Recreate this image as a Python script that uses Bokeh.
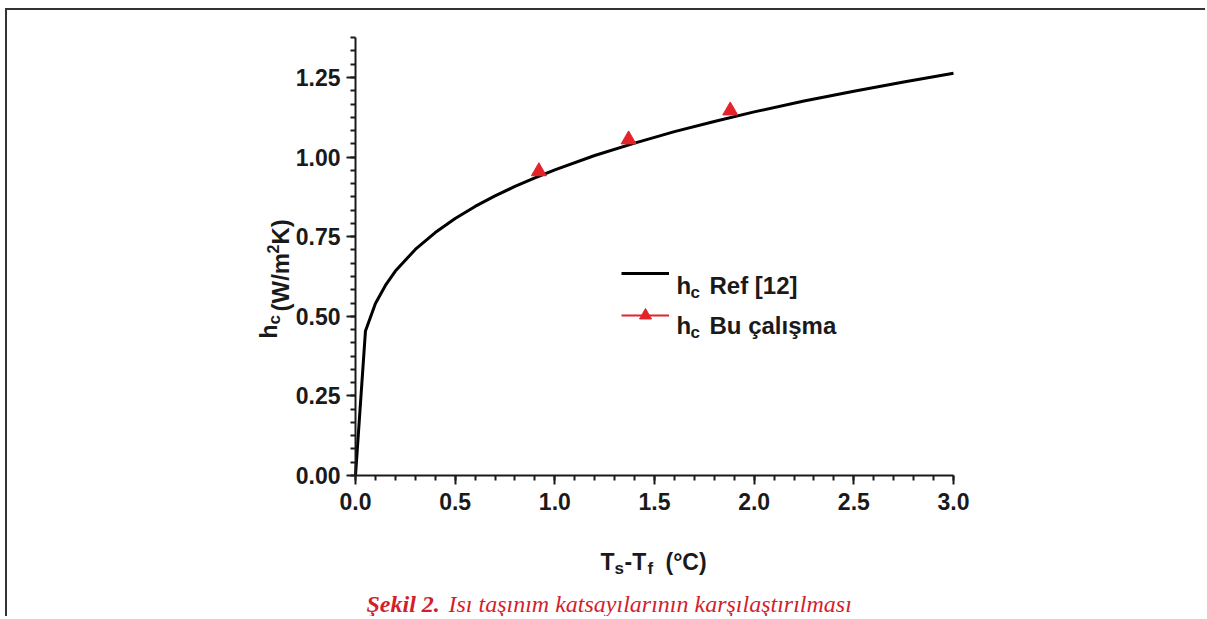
import math
from bokeh.plotting import figure
from bokeh.models import (Range1d, SingleIntervalTicker, NumeralTickFormatter, Label,
                          Legend, LegendItem)
from bokeh.embed import file_html
from bokeh.resources import INLINE

# ---- data ----
ref_dt = [0.0, 0.05, 0.1, 0.15, 0.2, 0.3, 0.4, 0.5, 0.6, 0.7, 0.8, 0.9, 1.0,
          1.2, 1.4, 1.6, 1.8, 2.0, 2.25, 2.5, 2.75, 3.0]
ref_hc = [0.0, 0.454, 0.540, 0.597, 0.642, 0.710, 0.763, 0.807, 0.845, 0.878, 0.908,
          0.935, 0.960, 1.005, 1.044, 1.080, 1.112, 1.142, 1.176, 1.207, 1.236, 1.263]
bu_dt = [0.92, 1.37, 1.88]
bu_hc = [0.955, 1.055, 1.146]

x_ticks_interval = 0.5
y_ticks_interval = 0.25
x_axis_span = (0.0, 3.0)
y_axis_span = (0.0, 1.3756)
legend_labels = ["Ref [12]", "Bu çalışma"]
caption_bold = "Şekil 2."
caption_rest = "Isı taşınım katsayılarının karşılaştırılması"

# ---- layout (page pixels) ----
W, H = 1200, 608
OX, OY = 7, 10                       # page position of the canvas
FL, FR, FT, FB = 355, 953, 37, 475   # axis box in page px


def dx(px):
    return x_axis_span[0] + (px - FL) / (FR - FL) * (x_axis_span[1] - x_axis_span[0])


def dy(py):
    return y_axis_span[0] + (FB - py) / (FB - FT) * (y_axis_span[1] - y_axis_span[0])


RED = "#e3232a"
CAP_RED = "#d21f2d"
INK = "#1a1a1a"
FONT = "Liberation Sans"
SERIF = "Liberation Serif"

p = figure(width=W, height=H, output_backend="svg", toolbar_location=None,
           x_range=Range1d(dx(OX), dx(OX + W)), y_range=Range1d(dy(OY + H), dy(OY)),
           min_border=0, min_border_left=0, min_border_right=0,
           min_border_top=0, min_border_bottom=0)
p.styles = {"border-top": "2px solid #333333", "border-left": "2px solid #333333",
            "margin-left": "5px", "margin-top": "8px"}
p.outline_line_color = None
p.grid.visible = False
p.background_fill_color = "white"
p.border_fill_color = "white"

for ax in (p.xaxis[0], p.yaxis[0]):
    ax.axis_line_width = 2
    ax.axis_line_color = INK
    ax.major_tick_line_width = 2
    ax.major_tick_line_color = INK
    ax.minor_tick_line_width = 2
    ax.minor_tick_line_color = INK
    ax.major_tick_out = 9
    ax.major_tick_in = 0
    ax.minor_tick_out = 5
    ax.minor_tick_in = 0
    ax.major_label_text_font = FONT
    ax.major_label_text_font_style = "bold"
    ax.major_label_text_font_size = "23px"
    ax.major_label_text_color = INK
    ax.axis_label = None

p.xaxis.ticker = SingleIntervalTicker(interval=x_ticks_interval, num_minor_ticks=5)
p.yaxis.ticker = SingleIntervalTicker(interval=y_ticks_interval, num_minor_ticks=6)
p.xaxis.formatter = NumeralTickFormatter(format="0.0")
p.yaxis.formatter = NumeralTickFormatter(format="0.00")
p.xaxis.bounds = x_axis_span
p.yaxis.bounds = y_axis_span
p.xaxis.fixed_location = y_axis_span[0]
p.yaxis.fixed_location = x_axis_span[0]
p.xaxis.major_label_standoff = 8
p.yaxis.major_label_standoff = 6

line_r = p.line(ref_dt, ref_hc, line_color="black", line_width=3)
sc_r = p.scatter(bu_dt, bu_hc, marker="triangle", size=15, fill_color=RED,
                 line_color=RED)
red_line_r = p.line(bu_dt, bu_hc, line_color=RED, line_width=2, visible=False)

legend = Legend(items=[LegendItem(label=" ", renderers=[line_r]),
                       LegendItem(label=" ", renderers=[red_line_r, sc_r])],
                location=(621 - OX, OY + H - 330), orientation="vertical",
                padding=0, margin=0, spacing=12, glyph_width=48, glyph_height=30,
                label_height=30, label_width=0, label_standoff=0,
                border_line_color=None, background_fill_alpha=0,
                inactive_fill_alpha=0, label_text_font_size="2px")
p.add_layout(legend)


def lab(text, px, py, size, angle=0.0, color=INK, font=FONT, style="bold"):
    p.add_layout(Label(x=dx(px), y=dy(py), text=text, angle=angle,
                       text_font=font, text_font_style=style,
                       text_font_size=f"{size}px", text_color=color,
                       text_align="left", text_baseline="alphabetic"))


# x axis title: T_s-T_f (°C)
lab("T", 600, 561, 23)
lab("s", 614, 568, 17)
lab("-T", 624, 561, 23)
lab("f", 647, 568, 17)
lab("(°C)", 665, 561, 23)

# y axis title: h_c (W/m²K), rotated
A = math.pi / 2
lab("h", 268, 338, 23, angle=A)
lab("c", 274, 324, 17, angle=A)
lab("(W/m", 280, 311, 24, angle=A)
lab("2", 272, 253, 16, angle=A)
lab("K)", 280, 244, 24, angle=A)

# legend texts
for txt, base in zip(legend_labels, [285, 325]):
    lab("h", 676, base, 24)
    lab("c", 690, base + 7, 17)
    lab(txt, 709, base, 24)

# caption
lab(caption_bold, 366, 603, 24, color=CAP_RED, font=SERIF, style="bold italic")
lab(caption_rest, 448, 603, 24, color=CAP_RED, font=SERIF, style="italic")

open("out.html", "w").write(file_html(p, INLINE))
